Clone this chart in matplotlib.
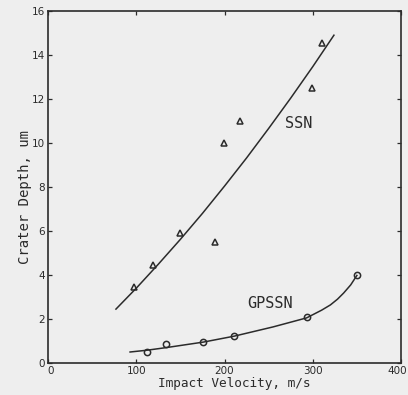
import numpy as np
import matplotlib
matplotlib.use("Agg")
import matplotlib.pyplot as plt
from matplotlib.transforms import ScaledTranslation

# measured crater depths (um) vs impact velocity (m/s)
ssn_v = [97, 119, 150, 189, 199, 217, 299, 310]
ssn_d = [3.45, 4.45, 5.9, 5.5, 10.0, 11.0, 12.5, 14.55]
gpssn_v = [112, 134, 176, 211, 293, 350]
gpssn_d = [0.5, 0.86, 0.95, 1.23, 2.1, 4.0]

# fitted trend lines
ssn_fit_v = [77, 100, 125, 150, 175, 200, 225, 250, 275, 300, 324]
ssn_fit_d = [2.45, 3.40, 4.49, 5.62, 6.80, 8.04, 9.32, 10.66, 12.04, 13.47, 14.9]
gpssn_fit_v = [93, 112, 134, 176, 211, 255, 293, 310, 320, 328, 335, 343, 350]
gpssn_fit_d = [0.5, 0.58, 0.7, 0.95, 1.22, 1.64, 2.05, 2.4, 2.64, 2.9, 3.18, 3.55, 3.98]

ink = "#2b2b2b"
bg = "#eeeeee"

fig = plt.figure(figsize=(4.08, 3.95), dpi=100, facecolor=bg)
ax = fig.add_axes([48/408, 1-363/395, (401-48)/408, (363-11)/395])
ax.set_facecolor(bg)

ax.plot(ssn_fit_v, ssn_fit_d, color=ink, lw=1.1)
ax.plot(gpssn_fit_v, gpssn_fit_d, color=ink, lw=1.1)
ax.plot(ssn_v, ssn_d, ls="none", marker="^", ms=4.5, mfc="none", mec=ink, mew=1.1)
ax.plot(gpssn_v, gpssn_d, ls="none", marker="o", ms=4.5, mfc="none", mec=ink, mew=1.1)

ax.text(284, 10.9, "SSN", family="DejaVu Sans Mono", fontsize=11, color=ink, ha="center", va="center")
ax.text(252, 2.7, "GPSSN", family="DejaVu Sans Mono", fontsize=11, color=ink, ha="center", va="center")

ax.set_xlim(0, 400)
ax.set_ylim(0, 16)
ax.set_xticks([0, 100, 200, 300, 400])
ax.set_yticks(np.arange(0, 17, 2))

for s in ax.spines.values():
    s.set_color(ink)
    s.set_linewidth(1.2)

ax.tick_params(direction="in", length=3, width=0.9, color=ink, top=True, right=True,
               labelsize=7.5, labelcolor=ink, pad=2)
for lab in ax.get_xticklabels() + ax.get_yticklabels():
    lab.set_family("DejaVu Sans")

# keep the last x label inside the figure edge
xl = ax.get_xticklabels()
xl[0].set_transform(xl[0].get_transform() + ScaledTranslation(3/100, 0, fig.dpi_scale_trans))
xl[-1].set_transform(xl[-1].get_transform() + ScaledTranslation(-4/100, 0, fig.dpi_scale_trans))

fig.text(234/408, 1-384/395, "Impact Velocity, m/s", family="DejaVu Sans Mono",
         fontsize=9.2, color=ink, ha="center", va="center")
fig.text(25/408, 1-197/395, "Crater Depth, um", family="DejaVu Sans Mono",
         fontsize=10, color=ink, ha="center", va="center", rotation=90)

fig.savefig("out.png", dpi=100, facecolor=bg)
